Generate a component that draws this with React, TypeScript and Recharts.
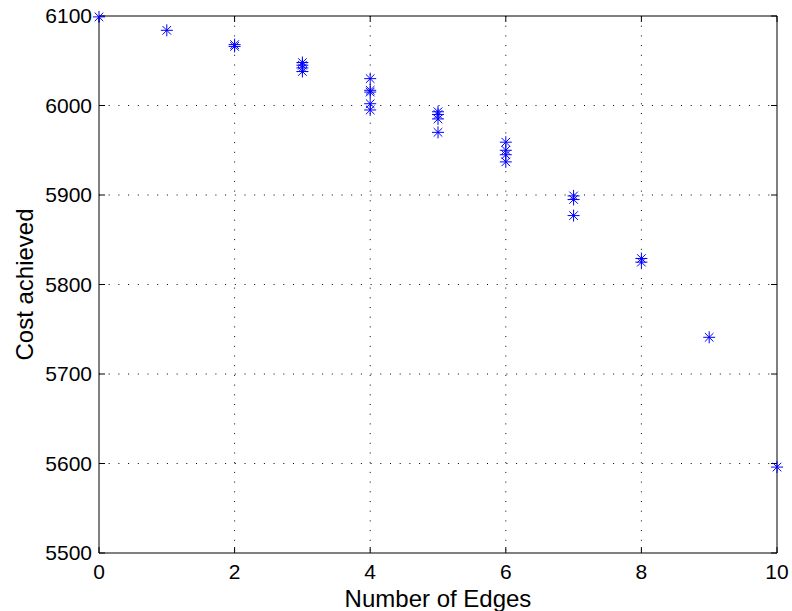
import React from 'react'
import { ScatterChart, Scatter, XAxis, YAxis, CartesianGrid } from 'recharts'

// Cost achieved for each run, grouped by number of edges
const edgeCounts = [0, 1, 2, 2, 3, 3, 3, 3, 4, 4, 4, 4, 4, 5, 5, 5, 5, 6, 6, 6, 6, 7, 7, 7, 8, 8, 9, 10]
const costValues = [
  6099, 6084, 6068, 6066, 6048, 6045, 6042, 6038, 6030, 6017, 6015, 6002, 5995,
  5993, 5990, 5985, 5970, 5959, 5950, 5945, 5937, 5899, 5895, 5877, 5829, 5825, 5741, 5596,
]
const xTicks = [0, 2, 4, 6, 8, 10]
const yTicks = [5500, 5600, 5700, 5800, 5900, 6000, 6100]

const points = edgeCounts.map((e, i) => ({ edges: e, cost: costValues[i] }))

const FONT = 'Liberation Sans, Arial, Helvetica, sans-serif'

// MATLAB-style '*' marker: plus sign overlaid with an x
const Asterisk = (props: any) => {
  const { cx, cy } = props
  const r = 6
  const d = 4.3
  return (
    <g stroke="#0000ff" strokeWidth={1}>
      <line x1={cx - r} y1={cy} x2={cx + r} y2={cy} />
      <line x1={cx} y1={cy - r} x2={cx} y2={cy + r} />
      <line x1={cx - d} y1={cy - d} x2={cx + d} y2={cy + d} />
      <line x1={cx - d} y1={cy + d} x2={cx + d} y2={cy - d} />
    </g>
  )
}

export default function App() {
  return (
    <div style={{ position: 'absolute', left: 0, top: 0, background: '#fff' }}>
      <ScatterChart width={792} height={611} margin={{ top: 15, right: 14, bottom: 28, left: 39 }}>
        <CartesianGrid
          xAxisId="main"
          yAxisId="main"
          stroke="#000"
          strokeDasharray="1 8.7"
          strokeWidth={1}
          horizontalValues={yTicks.slice(1, -1)}
          verticalValues={xTicks.slice(1, -1)}
        />
        <XAxis
          xAxisId="main"
          type="number"
          dataKey="edges"
          domain={[0, 10]}
          ticks={xTicks}
          height={30}
          stroke="#000"
          tickSize={-6}
          tickMargin={17}
          tick={{ fill: '#000', fontSize: 21, fontFamily: FONT }}
          label={{ value: 'Number of Edges', position: 'insideBottom', offset: -24, fill: '#000', fontSize: 24, fontFamily: FONT }}
        />
        <XAxis
          xAxisId="top"
          orientation="top"
          type="number"
          dataKey="edges"
          domain={[0, 10]}
          ticks={xTicks}
          height={1}
          stroke="#000"
          tickSize={-6}
          tickFormatter={() => ''}
        />
        <YAxis
          yAxisId="main"
          type="number"
          dataKey="cost"
          domain={[5500, 6100]}
          ticks={yTicks}
          width={60}
          stroke="#000"
          tickSize={-6}
          tickMargin={13}
          tick={{ fill: '#000', fontSize: 21, fontFamily: FONT }}
          label={{ value: 'Cost achieved', angle: -90, position: 'insideLeft', offset: -15, fill: '#000', fontSize: 24, fontFamily: FONT, style: { textAnchor: 'middle' } }}
        />
        <YAxis
          yAxisId="right"
          orientation="right"
          type="number"
          dataKey="cost"
          domain={[5500, 6100]}
          ticks={yTicks}
          width={1}
          stroke="#000"
          tickSize={-6}
          tickFormatter={() => ''}
        />
        <Scatter
          data={points}
          xAxisId="main"
          yAxisId="main"
          shape={Asterisk}
          isAnimationActive={false}
        />
        <Scatter
          data={points}
          xAxisId="top"
          yAxisId="right"
          shape={() => <g />}
          isAnimationActive={false}
        />
      </ScatterChart>
    </div>
  )
}
